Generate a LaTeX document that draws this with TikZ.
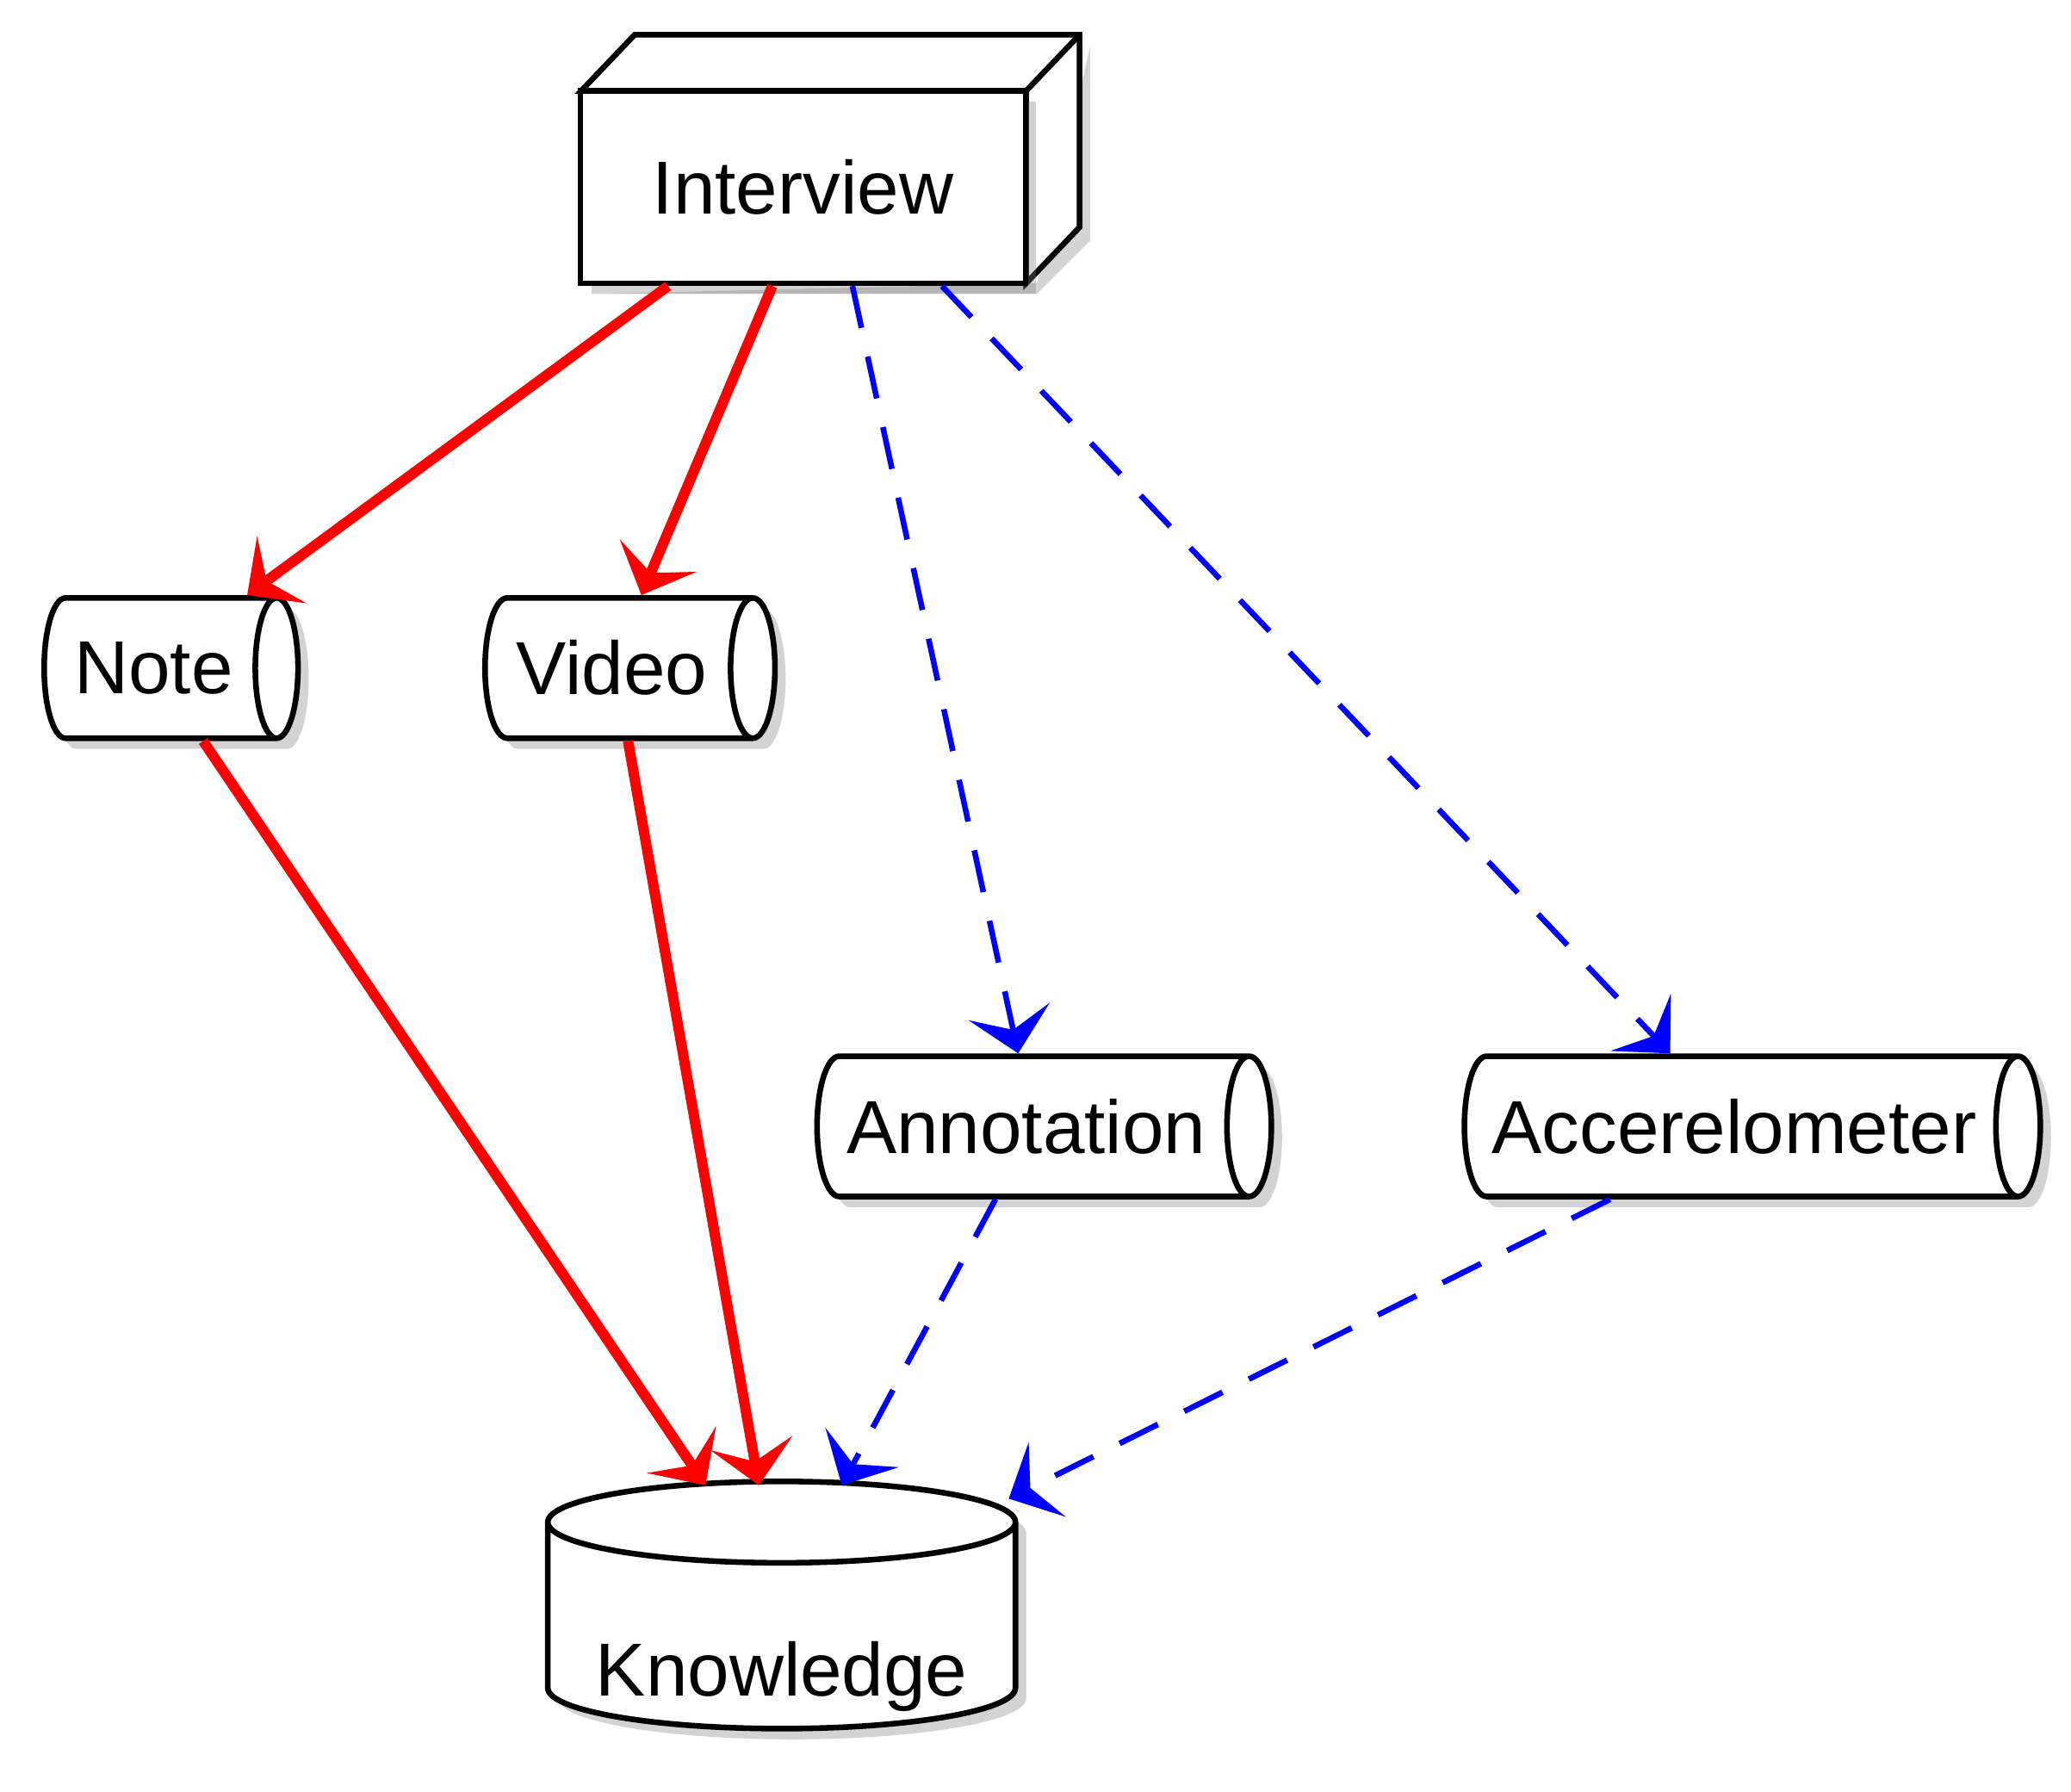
\documentclass[tikz,border=0pt]{standalone}
\usepackage{fontspec}
\setmainfont{Liberation Sans}
\usetikzlibrary{shapes.geometric,shadows,arrows.meta}
\begin{document}
\begin{tikzpicture}[
  font=\fontsize{16}{19}\selectfont,
  shade/.style = {drop shadow={shadow xshift=0.08cm,shadow yshift=-0.08cm,opacity=0.35,fill=gray}},
  queue/.style = {draw,very thick,fill=white,shade,cylinder,aspect=0.6,minimum height=#1,minimum width=1.05cm,inner sep=2pt},
  store/.style = {draw,very thick,fill=white,shade,cylinder,shape border rotate=90,aspect=2.6,minimum width=3.5cm,minimum height=1.85cm},
  tip/.style = {-{Stealth[length=0.32cm,width=0.62cm,inset=0.14cm]}},
  solid link/.style = {tip,red,line width=2.2pt},
  dashed link/.style = {tip,blue,line width=1.2pt,dash pattern=on 0.32cm off 0.22cm}]
  \useasboundingbox (0,0) rectangle (15.5,13.41);
  %Interview box with 3D top and side
  \fill[gray,opacity=0.35] (4.43,11.21) -- (7.76,11.21) -- (8.16,11.61) -- (8.16,13.07) -- (7.76,11.29) -- cycle;
  \draw[very thick,fill=white] (4.35,12.73) -- (4.75,13.15) -- (8.08,13.15) -- (8.08,11.71) -- (7.68,11.29) -- (7.68,12.73) -- cycle;
  \draw[very thick] (7.68,12.73) -- (8.08,13.15);
  \node[draw,very thick,fill=white,shade,minimum width=3.33cm,minimum height=1.44cm] (interview) at (6.01,12.01) {Interview};
  %Queues
  \node[queue=1.90cm] (note) at (1.15,8.41) {Note};
  \node[queue=2.17cm] (video) at (4.58,8.41) {Video};
  \node[queue=3.40cm] (annotation) at (7.68,4.98) {Annotation};
  \node[queue=4.31cm] (accel) at (12.98,4.98) {Accerelometer};
  %Storage
  \node[store] (knowledge) at (5.85,1.18) {};
  \node at (5.85,0.86) (klabel) {Knowledge};
  %Edges
  \draw[solid link] ([xshift=-1.01cm]interview.south) -- ([xshift=0.70cm]note.north);
  \draw[solid link] ([xshift=-0.23cm]interview.south) -- ([xshift=0.22cm]video.north);
  \draw[dashed link] ([xshift=0.37cm]interview.south) -- ([xshift=-0.06cm]annotation.north);
  \draw[dashed link] ([xshift=1.04cm]interview.south) -- ([xshift=-0.48cm]accel.north);
  \draw[solid link] ([xshift=0.37cm]note.south) -- ([xshift=-0.57cm,yshift=-0.05cm]knowledge.north);
  \draw[solid link] ([xshift=0.12cm]video.south) -- ([xshift=-0.17cm,yshift=-0.05cm]knowledge.north);
  \draw[dashed link] ([xshift=-0.23cm]annotation.south) -- ([xshift=0.45cm,yshift=-0.05cm]knowledge.north);
  \draw[dashed link] ([xshift=-0.93cm]accel.south) -- ([xshift=1.70cm,yshift=-0.15cm]knowledge.north);
\end{tikzpicture}
\end{document}
